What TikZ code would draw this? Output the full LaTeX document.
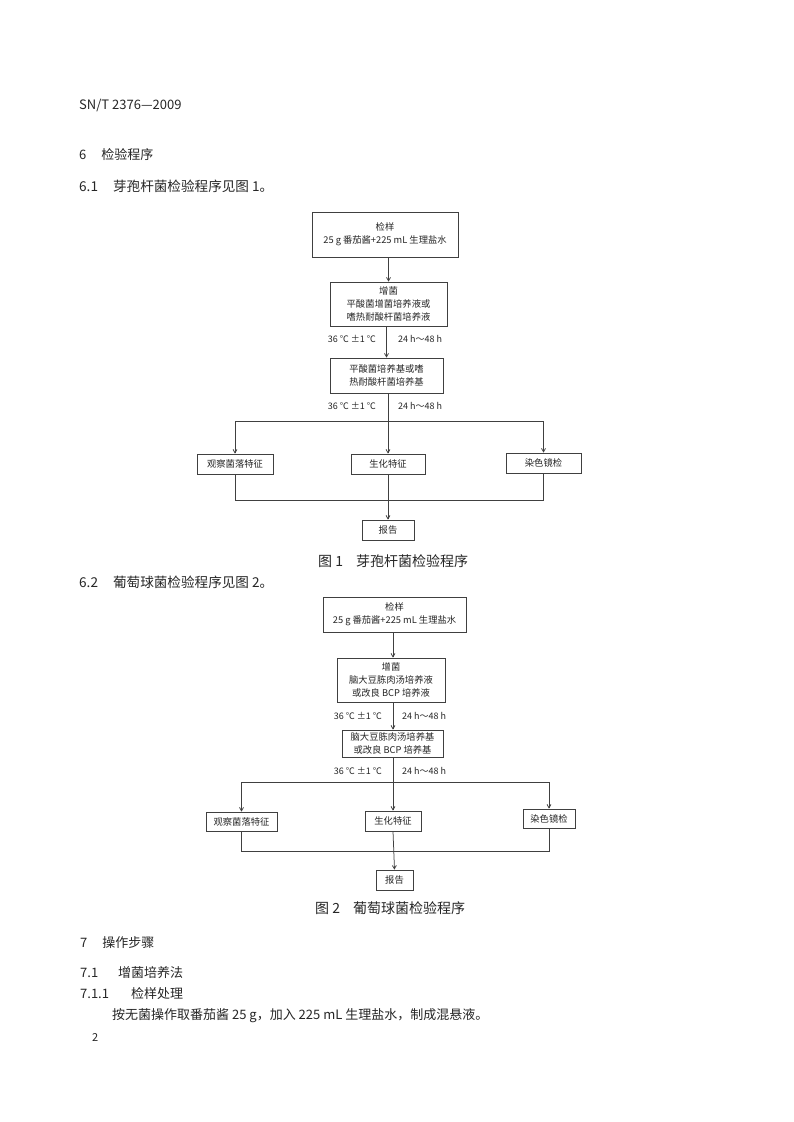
\documentclass[tikz,border=0pt]{standalone}
\usepackage{fontspec}
\setmainfont{Noto Sans CJK SC}
\usetikzlibrary{arrows.meta}
\newcommand{\fsz}[1]{\fontsize{#1pt}{#1pt}\selectfont}
\tikzset{
  box/.style={draw=black!75, line width=0.75pt, align=center, inner sep=0pt,
    font=\fontsize{9.3pt}{13.3pt}\selectfont, text=black!85},
  cond/.style={font=\fontsize{9pt}{11pt}\selectfont, text=black!85, inner sep=0pt},
  body/.style={font=\fsz{13}, text=black!85, inner sep=0pt, anchor=west},
  captxt/.style={font=\fsz{14}, text=black!85, inner sep=0pt, anchor=west},
  conn/.style={draw=black!75, line width=0.75pt},
  arr/.style={conn, -{Straight Barb[length=3.5pt,width=4pt]}}
}
\begin{document}
\begin{tikzpicture}[x=1pt,y=-1pt]
\useasboundingbox[fill=white] (0,0) rectangle (794,1122);

% ---- page text ----
\node[body] (hdr) at (79,105) {SN/T 2376—2009};
\node[body] (s6) at (79,155) {6\hspace{15pt}检验程序};
\node[body, font=\fsz{13.6}] (s61) at (79,186) {6.1\hspace{15pt}芽孢杆菌检验程序见图 1。};
\node[body, font=\fsz{13.6}] (s62) at (79,582) {6.2\hspace{15pt}葡萄球菌检验程序见图 2。};
\node[body] (s7) at (80,943) {7\hspace{15pt}操作步骤};
\node[body] (s71) at (80,973) {7.1\hspace{20pt}增菌培养法};
\node[body] (s711) at (80,994) {7.1.1\hspace{22pt}检样处理};
\node[body] (par) at (112,1016) {按无菌操作取番茄酱 25 g，加入 225 mL 生理盐水，制成混悬液。};
\node[body, font=\fsz{11}] (pg) at (92,1037) {2};

% ---- Figure 1 ----
\node[box, minimum width=146pt, minimum height=45pt] (a1) at (385,234.5) {检样\\25 g 番茄酱+225 mL 生理盐水};
\node[box, minimum width=117pt, minimum height=44pt] (a2) at (388.5,304) {增菌\\平酸菌增菌培养液或\\嗜热耐酸杆菌培养液};
\node[box, minimum width=113pt, minimum height=35pt] (a3) at (386.5,375.5) {平酸菌培养基或嗜\\热耐酸杆菌培养基};
\node[cond, anchor=east] (a2t) at (376,339) {36 ℃ ±1 ℃};
\node[cond, anchor=west] (a2h) at (398,339) {24 h～48 h};
\node[cond, anchor=east] (a3t) at (376,406) {36 ℃ ±1 ℃};
\node[cond, anchor=west] (a3h) at (398,406) {24 h～48 h};
\node[box, minimum width=76pt, minimum height=20pt] (aL) at (235,464) {观察菌落特征};
\node[box, minimum width=74pt, minimum height=20pt] (aM) at (388,464) {生化特征};
\node[box, minimum width=75pt, minimum height=20pt] (aR) at (543.5,463) {染色镜检};
\node[box, minimum width=52pt, minimum height=20pt] (aP) at (388,530) {报告};
\node[captxt] (cap1) at (318,561) {图 1\hspace{13pt}芽孢杆菌检验程序};

\coordinate (aTop) at (388,421);
\coordinate (aBot) at (388,500);
\draw[arr] (a2.north |- a1.south) -- (a2.north);
\draw[arr] (a2.south -| a3.north) -- (a3.north);
\draw[arr] (a3.south -| aM.north) -- (aM.north);
\draw[arr] (aTop -| aR.north) -- (aTop -| aL.north) -- (aL.north);
\draw[arr] (aTop -| aR.north) -- (aR.north);
\draw[conn] (aL.south) -- (aBot -| aL.south) -- (aBot -| aR.south) -- (aR.south);
\draw[arr] (aM.south) -- (aP.north);

% ---- Figure 2 ----
\node[box, minimum width=143pt, minimum height=35pt] (b1) at (394.5,614.5) {检样\\25 g 番茄酱+225 mL 生理盐水};
\node[box, minimum width=108pt, minimum height=44pt] (b2) at (391,680) {增菌\\脑大豆胨肉汤培养液\\或改良 BCP 培养液};
\node[box, minimum width=101pt, minimum height=27pt, font=\fontsize{9.3pt}{12.5pt}\selectfont] (b3) at (392.5,743.5) {脑大豆胨肉汤培养基\\或改良 BCP 培养基};
\node[cond, anchor=east] (b2t) at (382,716) {36 ℃ ±1 ℃};
\node[cond, anchor=west] (b2h) at (402,716) {24 h～48 h};
\node[cond, anchor=east] (b3t) at (382,771) {36 ℃ ±1 ℃};
\node[cond, anchor=west] (b3h) at (402,771) {24 h～48 h};
\node[box, minimum width=71pt, minimum height=19pt] (bL) at (241.5,821.5) {观察菌落特征};
\node[box, minimum width=56pt, minimum height=20pt] (bM) at (393,821) {生化特征};
\node[box, minimum width=52pt, minimum height=19pt] (bR) at (549,818.5) {染色镜检};
\node[box, minimum width=37pt, minimum height=20pt] (bP) at (394.5,880) {报告};
\node[captxt] (cap2) at (315,908) {图 2\hspace{13pt}葡萄球菌检验程序};

\coordinate (bx) at (393,0);
\coordinate (bTop) at (393,782);
\coordinate (bBot) at (393,851);
\draw[arr] (bx |- b1.south) -- (bx |- b2.north);
\draw[arr] (bx |- b2.south) -- (bx |- b3.north);
\draw[arr] (bx |- b3.south) -- (bM.north);
\draw[arr] (bTop -| bR.north) -- (bTop -| bL.north) -- (bL.north);
\draw[arr] (bTop -| bR.north) -- (bR.north);
\draw[conn] (bL.south) -- (bBot -| bL.south) -- (bBot -| bR.south) -- (bR.south);
\draw[arr] (bM.south) -- (bP.north);
\end{tikzpicture}
\end{document}
